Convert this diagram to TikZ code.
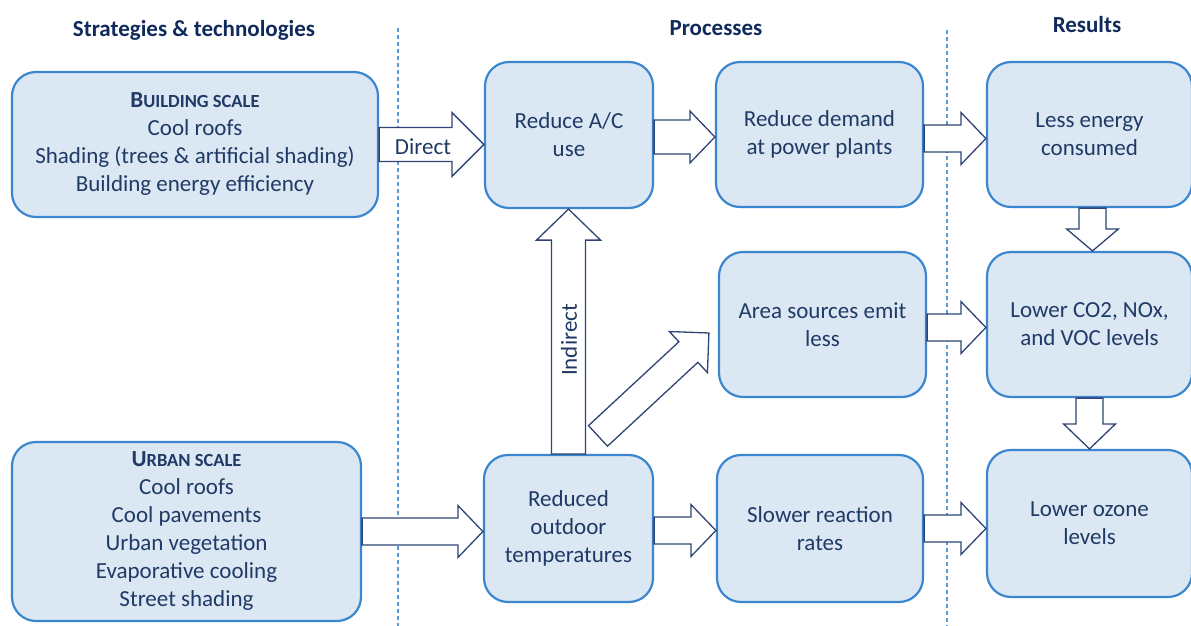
\documentclass[tikz,border=0pt]{standalone}
\usepackage{fontspec}
\setmainfont{Carlito}
\usepackage{xcolor}
\definecolor{uhiText}{HTML}{1F3A64}
\definecolor{uhiTitle}{HTML}{112A5C}
\definecolor{uhiBorder}{HTML}{3A87D0}
\definecolor{uhiFill}{HTML}{DCE7F4}
\definecolor{uhiArrow}{HTML}{2F4475}
\definecolor{uhiDivider}{HTML}{5B9BD5}
\usepackage{tikz}
\usetikzlibrary{calc,positioning}
\tikzset{
    box/.style={
        draw=uhiBorder,
        fill=uhiFill,
        rectangle,
        rounded corners=24pt,
        line width=2.2pt,
        align=center,
        text=uhiText,
        inner sep=4pt,
        font=\fontsize{23}{28}\selectfont
    },
    title/.style={
        text=uhiTitle,
        font=\fontsize{23}{28}\selectfont\bfseries
    },
    lbl/.style={
        text=uhiText,
        inner sep=0pt,
        font=\fontsize{23}{28}\selectfont
    },
    divider/.style={
        draw=uhiDivider,
        line width=2.2pt,
        dash pattern=on 4pt off 3pt
    },
    fat shaft/.store in=\fatshaft,
    fat head/.store in=\fathead,
    fat len/.store in=\fatlen,
    fat shaft=13.5pt, fat head=26pt, fat len=25pt,
    fat/.style={
        draw=uhiArrow,
        fill=white,
        line width=1.3pt,
        line join=miter,
        to path={
            let \p1=(\tikztostart), \p2=(\tikztotarget),
                \p3=($(\p2)!\fatlen!(\p1)$) in
            ($(\p1)!\fatshaft!90:(\p2)$) -- ($(\p3)!\fatshaft!90:(\p2)$)
            -- ($(\p3)!\fathead!90:(\p2)$) -- (\p2)
            -- ($(\p3)!\fathead!-90:(\p2)$) -- ($(\p3)!\fatshaft!-90:(\p2)$)
            -- ($(\p1)!\fatshaft!-90:(\p2)$) -- cycle
        }
    },
    fat big/.style={fat, fat shaft=17pt, fat head=32pt, fat len=32pt}
}
\newcommand{\fakesc}[2]{{\bfseries #1\fontsize{18.5}{28}\selectfont #2}}

\begin{document}
\begin{tikzpicture}[x=1pt, y=-1pt]
    \path[use as bounding box, fill=white] (0,0) rectangle (1191,626);

    % Column titles
    \node[title] (ttlstrat) at (194,30) {Strategies \& technologies};
    \node[title] (ttlproc) at (716,28) {Processes};
    \node[title] (ttlres) at (1087,25) {Results};

    % Column dividers
    \draw[divider] (398,28) -- (398,626);
    \draw[divider] (947,30) -- (947,626);

    % Strategies - building and urban scale
    \node[box, minimum width=366pt, minimum height=145pt] (bld) at (195,144.5)
        {\fakesc{B}{UILDING SCALE}\\Cool roofs\\Shading (trees \& artificial shading)\\Building energy efficiency};
    \node[box, minimum width=349pt, minimum height=179pt] (urb) at (186.5,531.5)
        {\fakesc{U}{RBAN SCALE}\\Cool roofs\\Cool pavements\\Urban vegetation\\Evaporative cooling\\Street shading};

    % Processes
    \node[box, minimum width=168pt, minimum height=146pt] (ac) at (569,135) {Reduce A/C\\use};
    \node[box, minimum width=207pt, minimum height=145pt] (dem) at (819.5,134.5) {Reduce demand\\at power plants};
    \node[box, minimum width=207pt, minimum height=145pt] (area) at (822.5,324.5) {Area sources emit\\less};
    \node[box, minimum width=169pt, minimum height=147pt] (ro) at (568.5,528.5) {Reduced\\outdoor\\temperatures};
    \node[box, minimum width=206pt, minimum height=147pt] (slow) at (820,528.5) {Slower reaction\\rates};

    % Results
    \node[box, minimum width=205pt, minimum height=145pt] (less) at (1089.5,134.5) {Less energy\\consumed};
    \node[box, minimum width=205pt, minimum height=145pt] (co2) at (1089.5,324.5) {Lower CO2, NOx,\\and VOC levels};
    \node[box, minimum width=205pt, minimum height=147pt] (oz) at (1089.5,523.5) {Lower ozone\\levels};

    % Free ends of the diagonal arrow
    \coordinate (dtail) at ($(ro.north)+(29.5,-18)$);
    \coordinate (dtip) at ($(area.west)+(-9,8.5)$);

    % Connections
    \draw[fat big] (bld.east) to (bld.east -| ac.west);
    \draw[fat, fat shaft=17pt] ([yshift=-2pt]ac.east) to ([yshift=-2pt]ac.east -| dem.west);
    \draw[fat] ([yshift=-4pt]dem.east) to ([yshift=-4pt]dem.east -| less.west);
    \draw[fat] ([yshift=-3pt]area.east) to ([yshift=-3pt]area.east -| co2.west);
    \draw[fat, fat len=22pt] ([xshift=3pt]less.south) to ([xshift=3pt]co2.north);
    \draw[fat] (co2.south) to (oz.north);
    \draw[fat] (urb.east) to (urb.east -| ro.west);
    \draw[fat] ([yshift=-2pt]ro.east) to ([yshift=-2pt]ro.east -| slow.west);
    \draw[fat] (slow.east) to (slow.east -| oz.west);
    \draw[fat big, fat len=31pt] (ro.north) to (ro.north |- ac.south);
    \draw[fat, fat shaft=14pt, fat head=28pt, fat len=28pt] (dtail) to (dtip);

    % Arrow labels
    \node[lbl] (direct) at (423,147) {Direct};
    \node[lbl, rotate=90] (indirect) at (569,340) {Indirect};
\end{tikzpicture}
\end{document}
